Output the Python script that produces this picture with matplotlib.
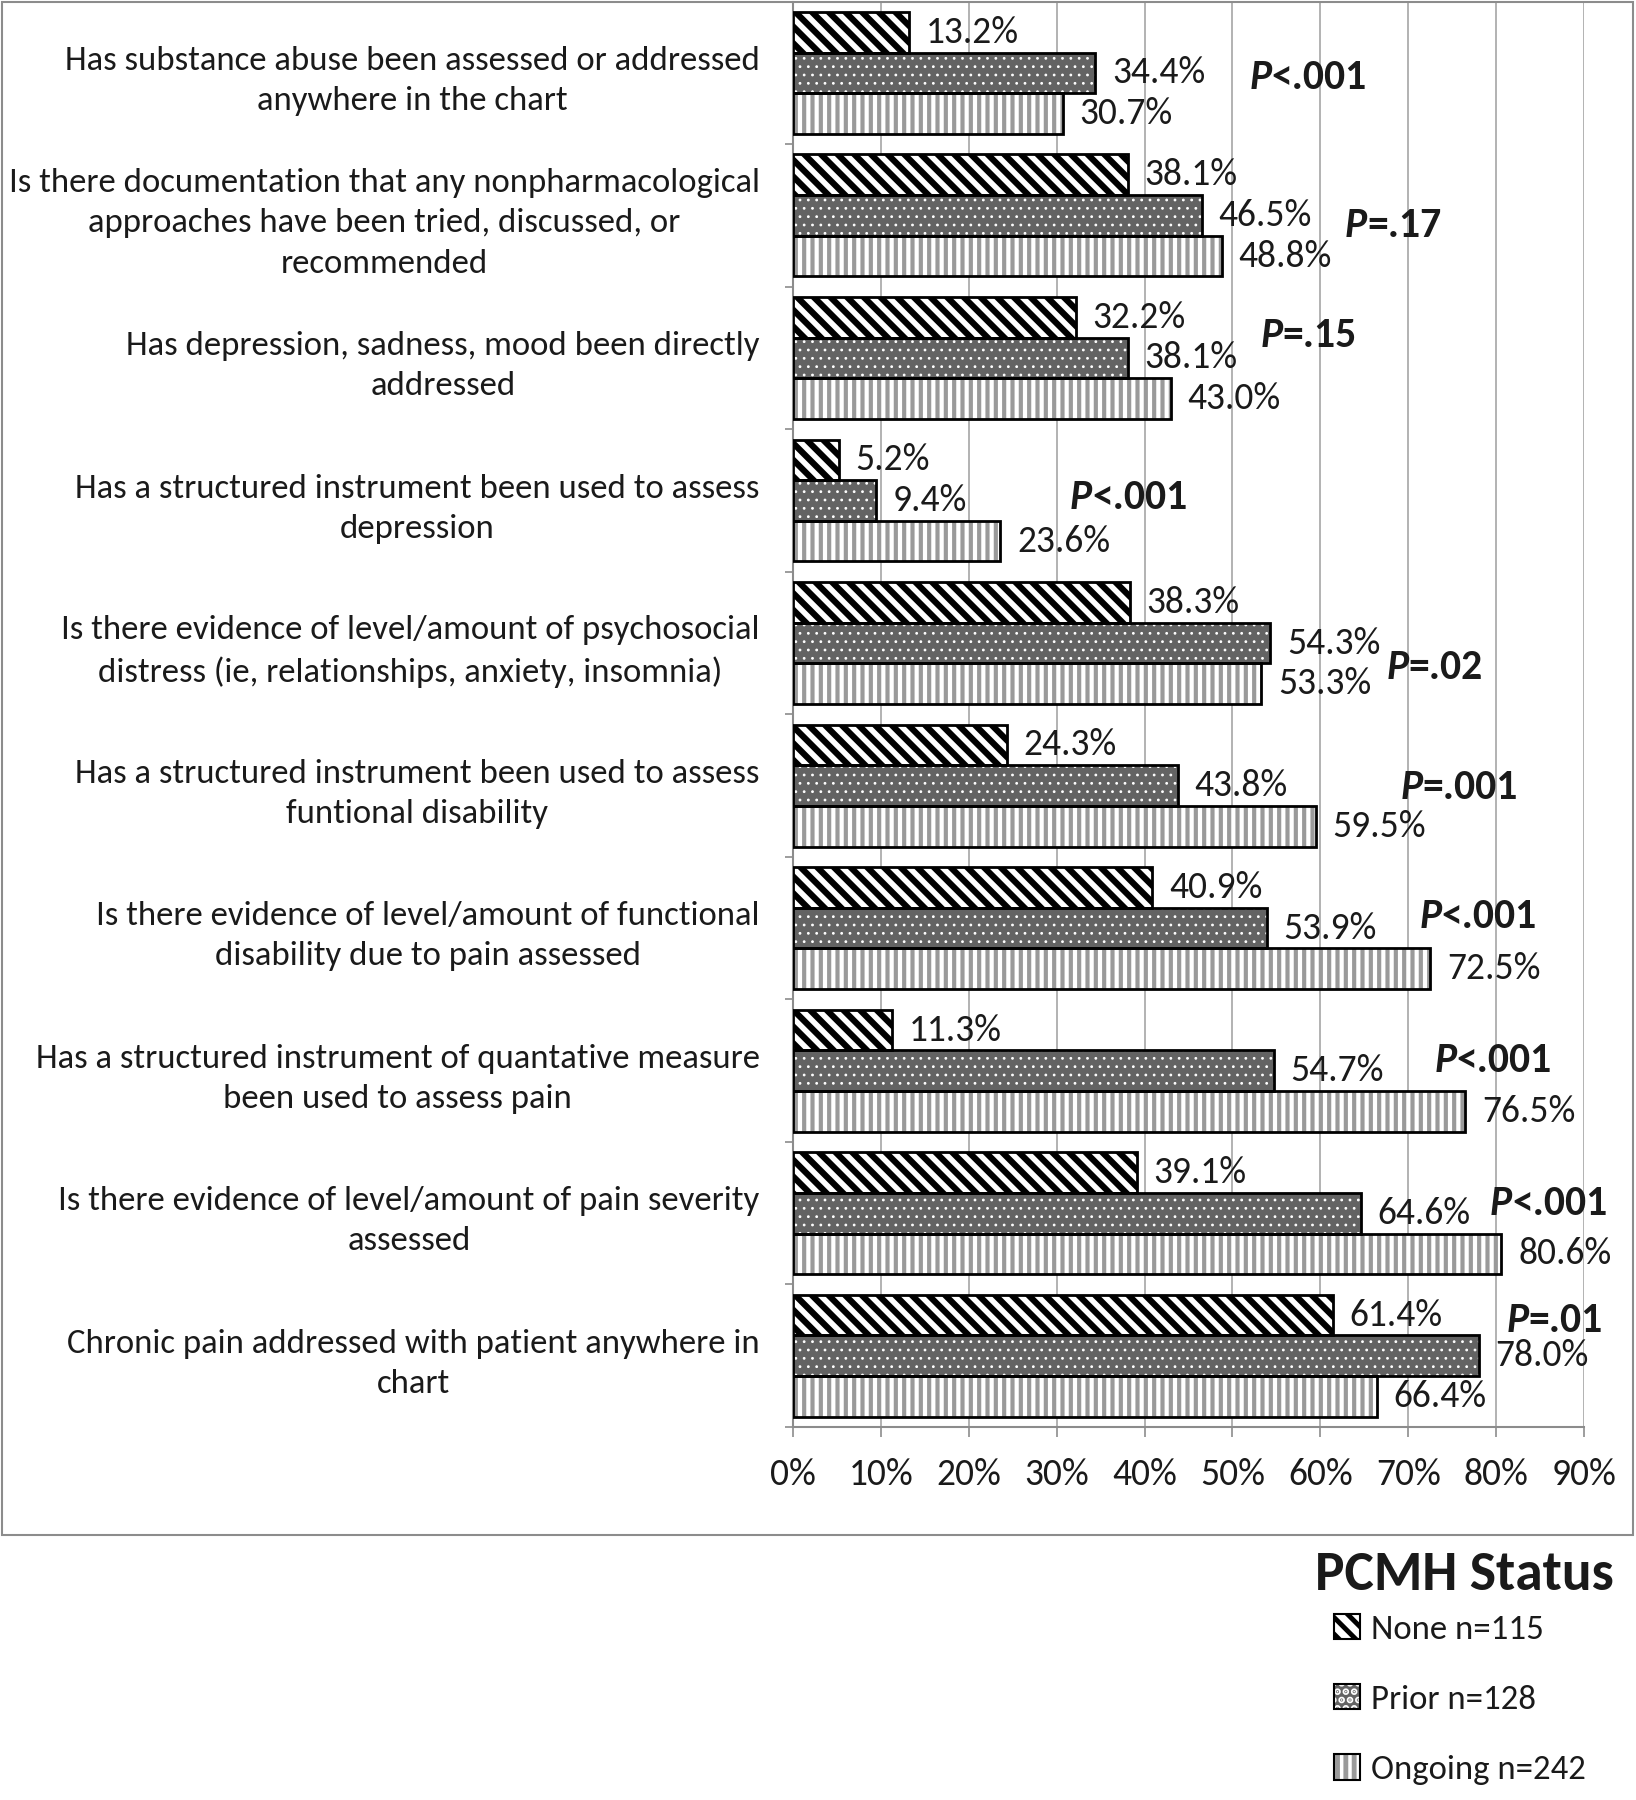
import matplotlib
matplotlib.use("Agg")
import matplotlib.pyplot as plt
import matplotlib.font_manager as fm
from matplotlib.patches import Rectangle, Patch
import numpy as np

# ---- data ----
categories = [
    "Has substance abuse been assessed or addressed\nanywhere in the chart",
    "Is there documentation that any nonpharmacological\napproaches have been tried, discussed, or\nrecommended",
    "Has depression, sadness, mood been directly\naddressed",
    "Has a structured instrument been used to assess\ndepression",
    "Is there evidence of level/amount of psychosocial\ndistress (ie, relationships, anxiety, insomnia)",
    "Has a structured instrument been used to assess\nfuntional disability",
    "Is there evidence of level/amount of functional\ndisability due to pain assessed",
    "Has a structured instrument of quantative measure\nbeen used to assess pain",
    "Is there evidence of level/amount of pain severity\nassessed",
    "Chronic pain addressed with patient anywhere in\nchart",
]
none_vals = [13.2, 38.1, 32.2, 5.2, 38.3, 24.3, 40.9, 11.3, 39.1, 61.4]
prior_vals = [34.4, 46.5, 38.1, 9.4, 54.3, 43.8, 53.9, 54.7, 64.6, 78.0]
ongoing_vals = [30.7, 48.8, 43.0, 23.6, 53.3, 59.5, 72.5, 76.5, 80.6, 66.4]
p_text = ["<.001", "=.17", "=.15", "<.001", "=.02", "=.001", "<.001", "<.001", "<.001", "=.01"]
series_names = ["None n=115", "Prior n=128", "Ongoing n=242"]
legend_title = "PCMH Status"
xticks = list(range(0, 91, 10))

# placement of the p-value notes (x in %, y shift within the group)
p_x = [51.9, 62.8, 53.2, 31.5, 67.5, 69.1, 71.3, 73.0, 79.3, 81.2]
p_dy = [0.03, 0.07, -0.16, -0.02, 0.17, 0.01, -0.08, -0.07, -0.07, -0.25]

available = {f.name for f in fm.fontManager.ttflist}
font = "Carlito" if "Carlito" in available else "Lato"
plt.rcParams["font.family"] = [font, "DejaVu Sans"]
plt.rcParams["hatch.linewidth"] = 3.5

txt_col = "#1a1a1a"
grey = "#8c8c8c"

fig = plt.figure(figsize=(16.36, 18), dpi=100)
ax = fig.add_axes([0.4847, 0.2072, 0.4835, 0.7919])

y = np.arange(len(categories))
h = 0.285
styles = [
    (none_vals, -h, "white", "black", "\\\\", 4.5),
    (prior_vals, 0, "#636363", "white", "..", 0.8),
    (ongoing_vals, h, "white", "#9a9a9a", "||", 3.0),
]

handles = []
for vals, off, face, hcol, hatch, hlw in styles:
    fill = ax.barh(y + off, vals, height=h, color=face, edgecolor=hcol,
                   hatch=hatch, linewidth=0, zorder=2)
    for b in fill:
        if hasattr(b, "set_hatch_linewidth"):
            b.set_hatch_linewidth(hlw)
    outline = ax.barh(y + off, vals, height=h, fill=False,
                      edgecolor="black", linewidth=2, zorder=3)
    ax.bar_label(outline, labels=[f"{v:.1f}%" for v in vals], padding=12,
                 fontsize=27, color=txt_col)
    hp = Patch(facecolor=face, edgecolor=hcol, hatch=hatch, linewidth=0)
    if hasattr(hp, "set_hatch_linewidth"):
        hp.set_hatch_linewidth(hlw * 0.7)
    handles.append((hp, Patch(fill=False, edgecolor="black", linewidth=1.5)))

# p-value notes: italic bold P followed by bold rest
for i, (txt, px, pdy) in enumerate(zip(p_text, p_x, p_dy)):
    t = ax.text(px, i + pdy, "P", fontsize=30, fontweight="bold",
                fontstyle="italic", va="center", ha="left", color=txt_col)
    ax.annotate(txt, xy=(1, 0), xycoords=t, va="bottom", ha="left",
                fontsize=30, fontweight="bold", color=txt_col)

ax.set_xlim(0, 90)
ax.set_ylim(len(categories) - 0.5, -0.5)
ax.set_xticks(xticks, labels=[f"{t}%" for t in xticks])
ax.set_yticks(y, labels=categories, ma="center", linespacing=1.42)
ax.set_yticks(np.arange(-0.5, len(categories), 1), minor=True)
ax.tick_params(axis="y", which="major", length=0, pad=24, labelsize=25,
               labelcolor=txt_col)
ax.tick_params(axis="y", which="minor", length=6, width=1.2, color=grey)
ax.tick_params(axis="x", length=7, width=1.2, color=grey, pad=15,
               labelsize=27, labelcolor=txt_col)
ax.grid(axis="x", color="#a6a6a6", linewidth=1.2, zorder=0)
ax.set_axisbelow(True)
for s in ["top", "right"]:
    ax.spines[s].set_visible(False)
for s in ["left", "bottom"]:
    ax.spines[s].set_color(grey)
    ax.spines[s].set_linewidth(1.5)

# outer frame
fig.add_artist(Rectangle((0.0012, 0.1472), 0.9970, 0.8516,
                         transform=fig.transFigure, fill=False,
                         edgecolor=grey, linewidth=1.5))

fig.text(0.8035, 1 - 1575 / 1800, legend_title, fontsize=40,
         fontweight="bold", va="center", ha="left", color=txt_col)
leg = fig.legend(handles, series_names, loc="upper left",
                 bbox_to_anchor=(0.805, 0.113), frameon=False,
                 fontsize=25, handlelength=0.75, handleheight=0.75,
                 handletextpad=0.3, labelspacing=1.13, borderpad=0)
for t in leg.get_texts():
    t.set_color(txt_col)

fig.savefig("out.png", dpi=100)
